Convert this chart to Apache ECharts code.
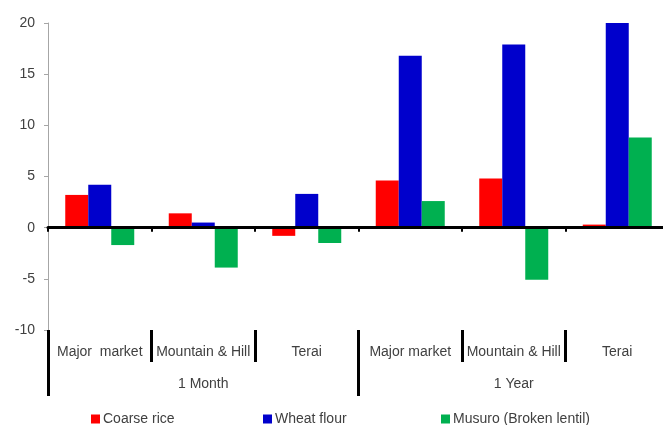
<!DOCTYPE html>
<html>
<head>
<meta charset="utf-8">
<script src="https://cdn.jsdelivr.net/npm/echarts@6/dist/echarts.min.js"></script>
<style>html,body{margin:0;padding:0;background:#fff;}#c{width:663px;height:425px;}</style>
</head>
<body>
<div id="c"></div>
<script>
var categories = ['Major  market', 'Mountain & Hill', 'Terai', 'Major market', 'Mountain & Hill', 'Terai'];
var groups = ['1 Month', '1 Year'];
var coarseRice = [3.2, 1.4, -0.8, 4.6, 4.8, 0.3];
var wheatFlour = [4.2, 0.5, 3.3, 16.8, 17.9, 20.0];
var musuro = [-1.7, -3.9, -1.5, 2.6, -5.1, 8.8];
var seriesNames = ['Coarse rice', 'Wheat flour', 'Musuro (Broken lentil)'];
var yTicks = { min: -10, max: 20, interval: 5 };

var chart = echarts.init(document.getElementById('c'));
var font = 'Liberation Sans';
var txt = '#404040';
function leg(name, left) {
  return {
    data: [name], left: left, top: 407, itemWidth: 9, itemHeight: 9, itemGap: 0,
    icon: 'rect', selectedMode: false,
    textStyle: { fontFamily: font, fontSize: 14, color: txt, padding: [0, 0, 0, -2] }
  };
}
chart.setOption({
  animation: false,
  grid: { left: 48, top: 23, width: 621, height: 307, containLabel: false, outerBoundsMode: 'none' },
  legend: [leg(seriesNames[0], 86), leg(seriesNames[1], 258), leg(seriesNames[2], 436)],
  xAxis: [
    {
      type: 'category', data: categories, z: 5,
      axisLine: { onZero: true, lineStyle: { color: '#000', width: 3 } },
      axisTick: { show: true, interval: 0, length: 4, lineStyle: { color: '#000', width: 2 } },
      axisLabel: { show: false }
    },
    {
      type: 'category', data: categories, position: 'bottom', offset: 0,
      axisLine: { show: false, onZero: false },
      axisTick: { show: true, interval: 0, length: 32, lineStyle: { color: '#000', width: 3 } },
      axisLabel: { show: true, interval: 0, margin: 15, fontFamily: font, fontSize: 14, color: txt }
    },
    {
      type: 'category', data: groups, position: 'bottom', offset: 0,
      axisLine: { show: false, onZero: false },
      axisTick: { show: true, interval: 0, length: 66, lineStyle: { color: '#000', width: 3 } },
      axisLabel: { show: true, interval: 0, margin: 47, fontFamily: font, fontSize: 14, color: txt }
    }
  ],
  yAxis: {
    type: 'value', min: yTicks.min, max: yTicks.max, interval: yTicks.interval,
    axisLine: { show: true, lineStyle: { color: '#a6a6a6', width: 1 } },
    axisTick: { show: true, length: 4, lineStyle: { color: '#a6a6a6' } },
    splitLine: { show: false },
    axisLabel: { margin: 13, fontFamily: font, fontSize: 14, color: txt }
  },
  series: [
    { name: seriesNames[0], type: 'bar', data: coarseRice, barWidth: 23, barGap: '0%', itemStyle: { color: '#FF0000' } },
    { name: seriesNames[1], type: 'bar', data: wheatFlour, barWidth: 23, barGap: '0%', itemStyle: { color: '#0000CC' } },
    { name: seriesNames[2], type: 'bar', data: musuro, barWidth: 23, barGap: '0%', itemStyle: { color: '#00B050' } }
  ]
});
</script>
</body>
</html>
